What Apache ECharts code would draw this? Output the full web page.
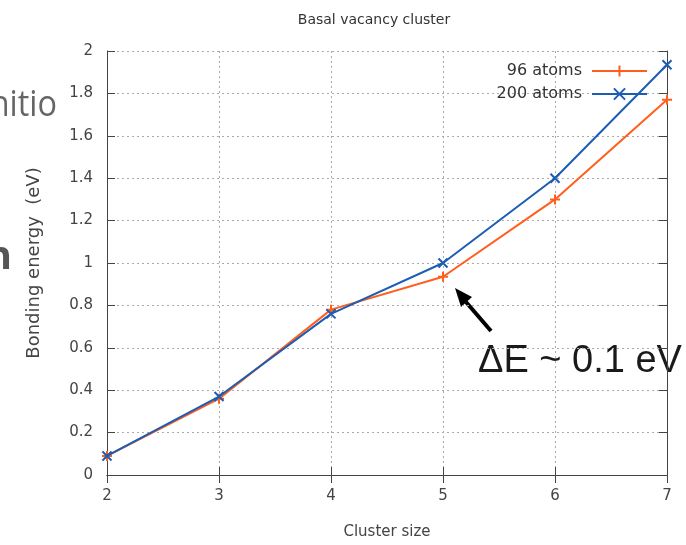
<!DOCTYPE html>
<html><head><meta charset="utf-8">
<script src="https://cdn.jsdelivr.net/npm/echarts@6/dist/echarts.min.js"></script>
<style>html,body{margin:0;padding:0;background:#fff}#c{width:686px;height:545px}</style>
</head><body><div id="c"></div>
<script>
var clusterSizes = [2, 3, 4, 5, 6, 7];
var atoms96 = [0.09, 0.36, 0.78, 0.935, 1.30, 1.77];
var atoms200 = [0.09, 0.37, 0.76, 1.00, 1.40, 1.935];
var seriesNames = ['96 atoms', '200 atoms'];
var FONT = '"DejaVu Sans",sans-serif';
var ORANGE = '#ff5e1c', BLUE = '#1c5db4';
var plusPath = 'path://M0,5L10,5M5,0L5,10';
var crossPath = 'path://M0,0L10,10M10,0L0,10';
function pairs(v){ return clusterSizes.map(function(x,i){return [x, v[i]];}); }
var chart = echarts.init(document.getElementById('c'));
var axisText = {color:'#444', fontSize:15, fontFamily:FONT};
chart.setOption({
  animation:false,
  title:{text:'Basal vacancy cluster', left:369, textAlign:'center', top:8,
    textStyle:{color:'#333', fontSize:14, fontWeight:'normal', fontFamily:FONT}},
  grid:{left:107, right:19, top:51, bottom:66},
  legend:{right:38, top:63, padding:0, orient:'vertical', align:'right', itemWidth:55, itemHeight:14, itemGap:7,
    textStyle:{color:'#333', fontSize:16, fontFamily:FONT, padding:[0,5,0,0]},
    data:seriesNames},
  xAxis:[{type:'value', min:2, max:7, interval:1,
    name:'Cluster size', nameLocation:'middle', nameGap:50,
    nameTextStyle:{color:'#444', fontSize:15, fontFamily:FONT},
    axisLine:{lineStyle:{color:'#444', width:1}},
    axisTick:{inside:true, length:8, lineStyle:{color:'#444'}},
    axisLabel:Object.assign({margin:14}, axisText),
    splitLine:{show:true, lineStyle:{color:'#aaa', type:[2,3], width:1}}},
   {type:'value', position:'top', min:2, max:7, interval:1,
    axisLine:{lineStyle:{color:'#444'}}, axisTick:{inside:true, length:8, lineStyle:{color:'#444'}},
    axisLabel:{show:false}, splitLine:{show:false}}],
  yAxis:[{type:'value', min:0, max:2, interval:0.2,
    name:'Bonding energy  (eV)', nameLocation:'middle', nameGap:64,
    nameTextStyle:{color:'#444', fontSize:18, fontFamily:FONT},
    axisLine:{show:true, lineStyle:{color:'#444'}},
    axisTick:{show:true, inside:true, length:8, lineStyle:{color:'#444'}},
    axisLabel:Object.assign({margin:14, formatter:function(v){return String(+v.toFixed(1));}}, axisText),
    splitLine:{show:true, lineStyle:{color:'#aaa', type:[2,3], width:1}}},
   {type:'value', position:'right', min:0, max:2, interval:0.2,
    axisLine:{show:true, lineStyle:{color:'#444'}},
    axisTick:{show:true, inside:true, length:8, lineStyle:{color:'#444'}},
    axisLabel:{show:false}, splitLine:{show:false}}],
  series:[
    {name:seriesNames[0], type:'line', data:pairs(atoms96), symbol:plusPath, symbolSize:10,
     lineStyle:{color:ORANGE, width:2}, itemStyle:{color:'transparent', borderColor:ORANGE, borderWidth:2}, z:2},
    {name:seriesNames[1], type:'line', data:pairs(atoms200), symbol:crossPath, symbolSize:9,
     lineStyle:{color:BLUE, width:2}, itemStyle:{color:'transparent', borderColor:BLUE, borderWidth:2}, z:3}
  ],
  graphic:[
    {type:'text', x:57, y:106, scaleX:0.9, style:{text:'Ab initio', textAlign:'right', textVerticalAlign:'middle', font:'36px "Open Sans",sans-serif', fill:'#666'}},
    {type:'text', x:12, y:258, style:{text:'on', textAlign:'right', textVerticalAlign:'middle', font:'bold 40px "Open Sans",sans-serif', fill:'#555'}},
    {type:'text', x:478, y:362, style:{text:'\u0394E ~ 0.1 eV', textVerticalAlign:'middle', font:'38px "Liberation Sans",sans-serif', fill:'#1a1a1a'}},
    {type:'line', shape:{x1:491, y1:331, x2:466, y2:302}, style:{stroke:'#000', lineWidth:4}},
    {type:'polygon', shape:{points:[[455,288],[472,297],[461,307]]}, style:{fill:'#000'}}
  ]
});
</script></body></html>
